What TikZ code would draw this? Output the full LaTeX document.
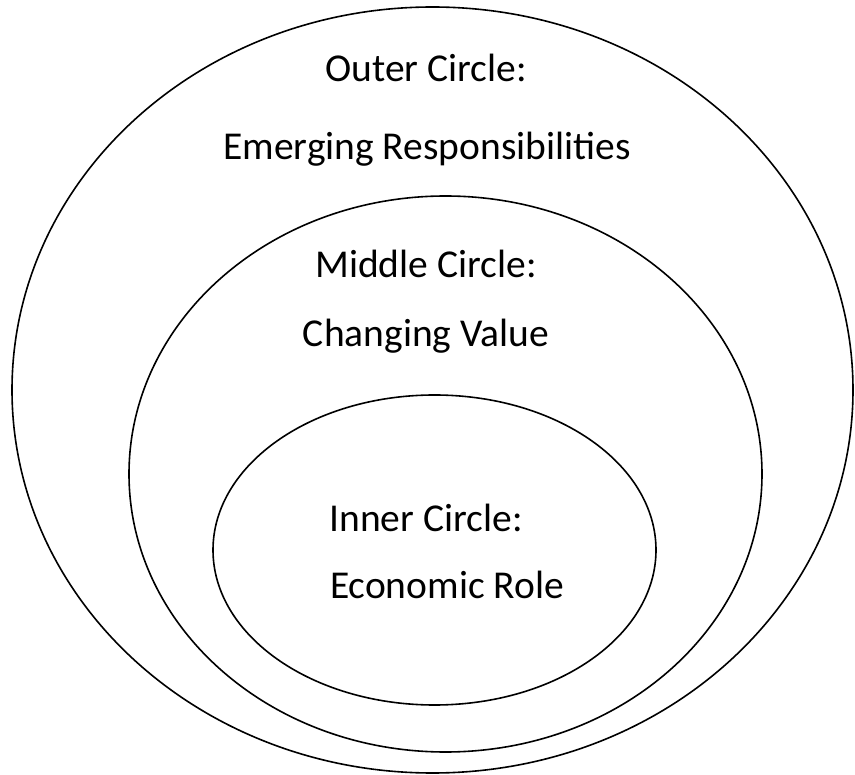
\documentclass[tikz,border=0pt]{standalone}
\usepackage{fontspec}
\setmainfont{Carlito}
\usetikzlibrary{shapes.geometric}
\tikzset{
  ring/.style={draw=black, line width=1.6pt, ellipse, inner sep=0pt, fill=none},
  lbl/.style={anchor=base, inner sep=0pt, font=\fontsize{39.5}{47}\selectfont, text=black}
}
\begin{document}
\begin{tikzpicture}[x=1pt, y=-1pt]
\useasboundingbox[fill=white] (0,0) rectangle (855,775);
\node[ring, minimum width=841pt, minimum height=766pt] (outer) at (432.5,390) {};
\node[ring, minimum width=633pt, minimum height=556pt] (middle) at (445.5,474) {};
\node[ring, minimum width=443pt, minimum height=310pt] (inner) at (434.5,550) {};
\node[lbl] (o1) at (426,82) {Outer Circle:};
\node[lbl] (o2) at (427,160) {Emerging Responsibilities};
\node[lbl] (m1) at (426,278) {Middle Circle:};
\node[lbl] (m2) at (426,347) {Changing Value};
\node[lbl] (i1) at (426,532) {Inner Circle:};
\node[lbl] (i2) at (447,598) {Economic Role};
\end{tikzpicture}
\end{document}
